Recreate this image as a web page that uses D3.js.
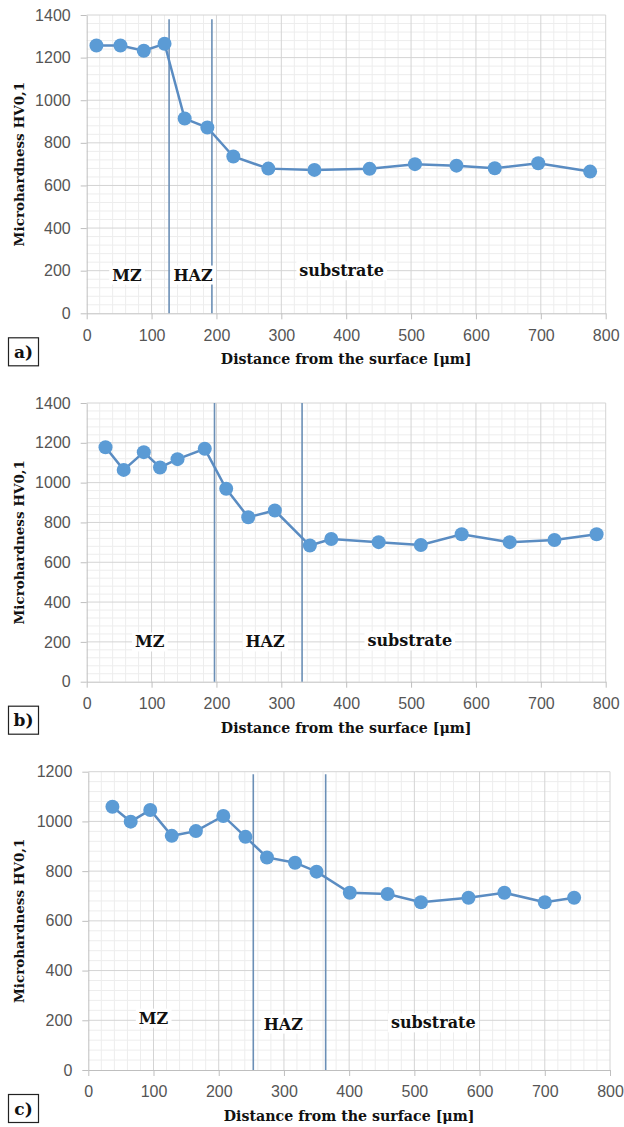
<!DOCTYPE html>
<html>
<head>
<meta charset="utf-8">
<script src="https://cdn.jsdelivr.net/npm/d3@7"></script>
<style>
  body { margin: 0; background: #fff; }
  svg { display: block; }
</style>
</head>
<body>
<svg id="chart" width="624" height="1127"></svg>
<script>
// ---- data ----
const xTickValues = [0, 100, 200, 300, 400, 500, 600, 700, 800];
const yTicksAB = [0, 200, 400, 600, 800, 1000, 1200, 1400];
const yTicksC = [0, 200, 400, 600, 800, 1000, 1200];

// panel a)
const aDistance = [15, 52, 88, 120, 151, 186, 226, 280, 351, 436, 506, 570, 629, 696, 776];
const aHardness = [1257, 1257, 1232, 1265, 914, 872, 736, 679, 673, 678, 700, 693, 681, 704, 665];
const aBounds = [127, 193];
const aZones = ["MZ", "HAZ", "substrate"];
const aZoneX = [62, 164, 393];
const aZoneY = [180, 180, 200];

// panel b)
const bDistance = [29, 57, 88, 113, 140, 182, 215, 249, 290, 344, 377, 450, 515, 578, 652, 721, 786];
const bHardness = [1178, 1064, 1153, 1076, 1118, 1170, 969, 826, 860, 684, 717, 701, 687, 741, 701, 712, 741];
const bBounds = [197, 332];
const bZones = ["MZ", "HAZ", "substrate"];
const bZoneX = [97, 275, 498];
const bZoneY = [200, 200, 205];

// panel c)
const cDistance = [37, 65, 95, 128, 165, 207, 241, 274, 317, 350, 401, 459, 510, 583, 638, 700, 745];
const cHardness = [1059, 999, 1046, 942, 961, 1022, 938, 855, 834, 798, 713, 708, 675, 693, 713, 675, 693];
const cBounds = [253, 364];
const cZones = ["MZ", "HAZ", "substrate"];
const cZoneX = [100, 299, 529];
const cZoneY = [209, 185, 190];

const xLabel = "Distance from the surface [\u03bcm]";
const yLabel = "Microhardness HV0,1";

const svg = d3.select("#chart");

// frame of each plot area (pixels)
const panels = [
  { tag: "a)", dist: aDistance, hard: aHardness, bounds: aBounds, zones: aZones, zx: aZoneX, zy: aZoneY,
    yMax: 1400, yTicks: yTicksAB, left: 86.7, right: 605.7, top: 15, bottom: 313.3, boundTop: 1380 },
  { tag: "b)", dist: bDistance, hard: bHardness, bounds: bBounds, zones: bZones, zx: bZoneX, zy: bZoneY,
    yMax: 1400, yTicks: yTicksAB, left: 86.7, right: 605.7, top: 403, bottom: 681.7, boundTop: 1400 },
  { tag: "c)", dist: cDistance, hard: cHardness, bounds: cBounds, zones: cZones, zx: cZoneX, zy: cZoneY,
    yMax: 1200, yTicks: yTicksC, left: 88.3, right: 610, top: 771.7, bottom: 1070, boundTop: 1190 }
];

const serif = "'DejaVu Serif', serif";
const sans = "'Liberation Sans', Arial, sans-serif";

panels.forEach(p => drawPanel(p));

function drawPanel(p) {
  const x = d3.scaleLinear().domain([0, 800]).range([p.left, p.right]);
  const y = d3.scaleLinear().domain([0, p.yMax]).range([p.bottom, p.top]);
  const g = svg.append("g");

  // minor grid
  g.append("g").selectAll("line")
    .data(d3.range(20, 800, 20).filter(v => v % 100 !== 0))
    .join("line")
    .attr("x1", d => x(d)).attr("x2", d => x(d))
    .attr("y1", y(0)).attr("y2", y(p.yMax))
    .attr("stroke", "#ededed").attr("stroke-width", 1);
  g.append("g").selectAll("line")
    .data(d3.range(40, p.yMax, 40).filter(v => v % 200 !== 0))
    .join("line")
    .attr("x1", x(0)).attr("x2", x(800))
    .attr("y1", d => y(d)).attr("y2", d => y(d))
    .attr("stroke", "#ededed").attr("stroke-width", 1);

  // major grid
  g.append("g").selectAll("line")
    .data(xTickValues.slice(1))
    .join("line")
    .attr("x1", d => x(d)).attr("x2", d => x(d))
    .attr("y1", y(0)).attr("y2", y(p.yMax))
    .attr("stroke", "#d4d4d4").attr("stroke-width", 1);
  g.append("g").selectAll("line")
    .data(p.yTicks.slice(1))
    .join("line")
    .attr("x1", x(0)).attr("x2", x(800))
    .attr("y1", d => y(d)).attr("y2", d => y(d))
    .attr("stroke", "#d4d4d4").attr("stroke-width", 1);

  // axes
  const xAxis = g.append("g")
    .attr("transform", `translate(0,${y(0)})`)
    .call(d3.axisBottom(x).tickValues(xTickValues).tickFormat(d3.format("d"))
      .tickSize(6).tickPadding(10).tickSizeOuter(0));
  const yAxis = g.append("g")
    .attr("transform", `translate(${x(0)},0)`)
    .call(d3.axisLeft(y).tickValues(p.yTicks).tickFormat(d3.format("d"))
      .tickSize(6).tickPadding(10).tickSizeOuter(0));
  [xAxis, yAxis].forEach(ax => {
    ax.select(".domain").attr("stroke", "#bfbfbf");
    ax.selectAll(".tick line").attr("stroke", "#bfbfbf");
    ax.selectAll(".tick text")
      .attr("fill", "#555")
      .style("font-family", sans)
      .style("font-size", "16px");
  });

  // zone boundaries
  g.append("g").selectAll("line")
    .data(p.bounds)
    .join("line")
    .attr("x1", d => x(d)).attr("x2", d => x(d))
    .attr("y1", y(0)).attr("y2", y(p.boundTop))
    .attr("stroke", "#6b8fb6").attr("stroke-width", 1.6);

  // zone labels with white backing
  const zl = g.append("g").selectAll("g")
    .data(p.zones)
    .join("g")
    .attr("transform", (d, i) => `translate(${x(p.zx[i])},${y(p.zy[i])})`);
  zl.append("text")
    .attr("text-anchor", "middle")
    .attr("dy", "0.35em")
    .style("font-family", serif)
    .style("font-weight", "bold")
    .style("font-size", "16px")
    .attr("fill", "#111")
    .text(d => d);
  zl.each(function () {
    const t = d3.select(this).select("text").node().getBBox();
    d3.select(this).insert("rect", "text")
      .attr("x", t.x - 3).attr("y", t.y)
      .attr("width", t.width + 6).attr("height", t.height)
      .attr("fill", "#fff");
  });

  // series line and markers
  const pts = p.dist.map((d, i) => [d, p.hard[i]]);
  g.append("path")
    .datum(pts)
    .attr("fill", "none")
    .attr("stroke", "#5a8cc2")
    .attr("stroke-width", 2.5)
    .attr("d", d3.line().x(d => x(d[0])).y(d => y(d[1])));
  g.append("g").selectAll("circle")
    .data(pts)
    .join("circle")
    .attr("cx", d => x(d[0])).attr("cy", d => y(d[1]))
    .attr("r", 7)
    .attr("fill", "#5b9bd5");

  // axis titles
  g.append("text")
    .attr("x", (p.left + p.right) / 2)
    .attr("y", p.bottom + 51)
    .attr("text-anchor", "middle")
    .style("font-family", serif).style("font-weight", "bold").style("font-size", "14.2px")
    .attr("fill", "#111")
    .text(xLabel);
  g.append("text")
    .attr("transform", `translate(24,${(p.top + p.bottom) / 2}) rotate(-90)`)
    .attr("text-anchor", "middle")
    .style("font-family", serif).style("font-weight", "bold").style("font-size", "13.5px")
    .attr("fill", "#111")
    .text(yLabel);

  // panel tag box
  g.append("rect")
    .attr("x", 8.5).attr("y", p.bottom + 24.5)
    .attr("width", 30).attr("height", 28)
    .attr("fill", "#fff").attr("stroke", "#222").attr("stroke-width", 1.2);
  g.append("text")
    .attr("x", 23.5).attr("y", p.bottom + 44.5)
    .attr("text-anchor", "middle")
    .style("font-family", serif).style("font-weight", "bold").style("font-size", "17px")
    .attr("fill", "#111")
    .text(p.tag);
}
</script>
</body>
</html>
